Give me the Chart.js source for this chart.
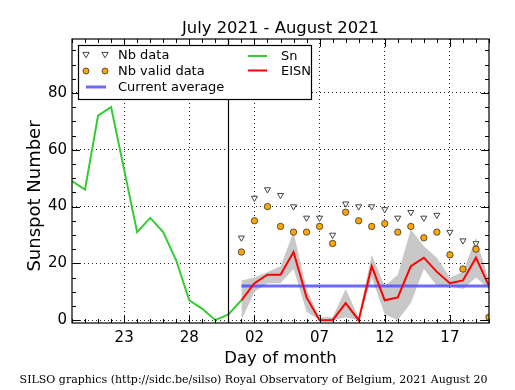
<!DOCTYPE html>
<html>
<head>
<meta charset="utf-8">
<script src="https://cdn.jsdelivr.net/npm/chart.js@4/dist/chart.umd.min.js"></script>
<style>
html,body{margin:0;padding:0;background:#fff;}
canvas{display:block;}
</style>
</head>
<body>
<canvas id="c" width="515" height="390"></canvas>
<script>
// Day offsets counted from July 19, 2021
const snDays = [0,1,2,3,4,5,6,7,8,9,10,11,12,13];
const snValues = [49,46,72,75,53,31,36,31,21,7,4,0,2,7];
const augDays = [13,14,15,16,17,18,19,20,21,22,23,24,25,26,27,28,29,30,31,32];
const eisnValues = [7,13,16,16,24,8,0,0,6,0,19,7,8,19,22,17,13,14,22,12];
const eisnUpper = [14,15,17,19,31,11,1,1,11,1,23,12,16,32,26,22,15,17,29,14];
const eisnLower = [0,10,13,13,18,3,0,0,1,0,15,2,0,6,18,12,12,11,15,11];
const nbData = [29,43,46,44,40,36,36,30,41,40,40,39,36,38,36,37,31,28,27,1];
const nbValid = [24,35,40,33,31,31,33,27,38,35,33,34,31,33,29,31,23,18,25,1];
const currentAverage = 12;
const avgDays = [13,32];
const monthBoundary = 12;
const xTickPos = [4,9,14,19,24,29];
const xTickLabels = ['23','28','02','07','12','17'];
const yTickPos = [0,20,40,60,80];
const yTickLabels = ['0','20','40','60','80'];
const xMin = 0, xMax = 32, yMin = -1, yMax = 99;

const pts = (xs, ys) => xs.map((x,i)=>({x:x, y:ys[i]}));
const FONT = "'DejaVu Sans', sans-serif";

const decor = {
  id:'decor',
  afterDatasetsDraw(chart){
    const {ctx, chartArea:a, scales:{x,y}} = chart;
    ctx.save();
    ctx.strokeStyle='#000'; ctx.lineWidth=1.2;
    const bx = Math.round(x.getPixelForValue(monthBoundary))+0.5;
    ctx.beginPath(); ctx.moveTo(bx,a.top); ctx.lineTo(bx,a.bottom); ctx.stroke();
    ctx.lineWidth=1.2;
    ctx.strokeRect(a.left, a.top, a.right-a.left, a.bottom-a.top);
    ctx.lineWidth=1;
    ctx.beginPath();
    for(let d=xMin; d<=xMax; d++){
      const px = Math.round(x.getPixelForValue(d))+0.5;
      const L = xTickPos.includes(d)?8:4;
      ctx.moveTo(px,a.bottom); ctx.lineTo(px,a.bottom-L);
      ctx.moveTo(px,a.top); ctx.lineTo(px,a.top+L);
    }
    for(let v=0; v<=yMax; v+=5){
      const py = Math.round(y.getPixelForValue(v))+0.5;
      const L = yTickPos.includes(v)?8:4;
      ctx.moveTo(a.left,py); ctx.lineTo(a.left+L,py);
      ctx.moveTo(a.right,py); ctx.lineTo(a.right-L,py);
    }
    ctx.stroke();
    // legend
    const lx=78, ly=45, lw=233, lh=54;
    ctx.fillStyle='#fff';
    ctx.fillRect(lx,ly,lw,lh);
    ctx.strokeStyle='#000'; ctx.lineWidth=1.2;
    ctx.strokeRect(lx+0.5,ly+0.5,lw,lh);
    ctx.font = "13px "+FONT; ctx.fillStyle='#000'; ctx.textBaseline='middle'; ctx.textAlign='left';
    const tri=(cx,cy)=>{ctx.beginPath();ctx.moveTo(cx-3.2,cy-2.6);ctx.lineTo(cx+3.2,cy-2.6);ctx.lineTo(cx,cy+2.8);ctx.closePath();ctx.fillStyle='#fff';ctx.fill();ctx.strokeStyle='#444';ctx.lineWidth=1;ctx.stroke();};
    const circ=(cx,cy)=>{ctx.beginPath();ctx.arc(cx,cy,3,0,Math.PI*2);ctx.fillStyle='#ffa500';ctx.fill();ctx.strokeStyle='#333';ctx.lineWidth=0.8;ctx.stroke();};
    tri(86,55); tri(105,55);
    circ(86,71); circ(105,71);
    ctx.strokeStyle='rgba(80,80,255,0.85)'; ctx.lineWidth=3;
    ctx.beginPath(); ctx.moveTo(86,87); ctx.lineTo(106,87); ctx.stroke();
    ctx.strokeStyle='#33cc33'; ctx.lineWidth=2;
    ctx.beginPath(); ctx.moveTo(248,56); ctx.lineTo(267,56); ctx.stroke();
    ctx.strokeStyle='#ff0000'; ctx.lineWidth=2;
    ctx.beginPath(); ctx.moveTo(248,70.5); ctx.lineTo(267,70.5); ctx.stroke();
    ctx.fillStyle='#000';
    ctx.fillText('Nb data',118,56);
    ctx.fillText('Nb valid data',118,72);
    ctx.fillText('Current average',118,88);
    ctx.fillText('Sn',281,57);
    ctx.fillText('EISN',281,72);
    ctx.restore();
  },
  afterDraw(chart){
    const {ctx, chartArea:a} = chart;
    ctx.save();
    ctx.fillStyle='#000';
    ctx.textAlign='center'; ctx.textBaseline='alphabetic';
    ctx.font = "16.4px "+FONT;
    ctx.fillText('July 2021 - August 2021', (a.left+a.right)/2, 32.5);
    ctx.font = "16.5px "+FONT;
    ctx.fillText('Day of month', (a.left+a.right)/2, 362.5);
    ctx.save();
    ctx.font = "18px "+FONT;
    ctx.translate(39.5, 196);
    ctx.rotate(-Math.PI/2);
    ctx.fillText('Sunspot Number', 0, 0);
    ctx.restore();
    ctx.font = "11px 'DejaVu Serif', serif";
    ctx.fillText('SILSO graphics (http://sidc.be/silso) Royal Observatory of Belgium, 2021 August 20', 253.5, 383);
    ctx.restore();
  }
};

new Chart(document.getElementById('c'), {
  type:'line',
  data:{
    datasets:[
      {label:'Nb valid data', data:pts(augDays,nbValid), showLine:false, pointStyle:'circle', pointRadius:3.2,
       pointBackgroundColor:'#ffa500', pointBorderColor:'#333', pointBorderWidth:0.8, clip:0},
      {label:'Nb data', data:pts(augDays,nbData), showLine:false, pointStyle:'triangle', rotation:180, pointRadius:3.5,
       pointBackgroundColor:'#fff', pointBorderColor:'#444', pointBorderWidth:1, clip:0},
      {label:'EISN', data:pts(augDays,eisnValues), borderColor:'#ff0000', borderWidth:2, pointRadius:0, tension:0, fill:false, clip:0},
      {label:'Current average', data:pts(avgDays,[currentAverage,currentAverage]), borderColor:'rgba(80,80,255,0.85)', borderWidth:3, pointRadius:0, fill:false, clip:0},
      {label:'Sn', data:pts(snDays,snValues), borderColor:'#33cc33', borderWidth:2, pointRadius:0, tension:0, fill:false, clip:0},
      {label:'upper', data:pts(augDays,eisnUpper), borderWidth:0, borderColor:'rgba(0,0,0,0)', pointRadius:0, fill:'+1', backgroundColor:'#c8c8c8', clip:0},
      {label:'lower', data:pts(augDays,eisnLower), borderWidth:0, borderColor:'rgba(0,0,0,0)', pointRadius:0, fill:false, clip:0}
    ]
  },
  options:{
    responsive:false, animation:false, events:[],
    layout:{padding:{top:39,right:26,left:0,bottom:0}},
    plugins:{legend:{display:false}, tooltip:{enabled:false}, title:{display:false}},
    scales:{
      x:{type:'linear', min:xMin, max:xMax,
        afterBuildTicks:(s)=>{s.ticks = xTickPos.map(v=>({value:v}));},
        afterFit:(s)=>{s.height=67;},
        ticks:{autoSkip:false, maxRotation:0, padding:6, color:'#000', font:{family:FONT,size:15},
          callback:(v)=>{const i=xTickPos.indexOf(v); return i>=0?xTickLabels[i]:'';}},
        grid:{color:'rgba(0,0,0,0.85)', lineWidth:1, drawTicks:false},
        border:{display:false, dash:[1,3]}
      },
      y:{type:'linear', min:yMin, max:yMax,
        afterBuildTicks:(s)=>{s.ticks = yTickPos.map(v=>({value:v}));},
        afterFit:(s)=>{s.width=72;},
        ticks:{autoSkip:false, padding:5, color:'#000', font:{family:FONT,size:15},
          callback:(v)=>{const i=yTickPos.indexOf(v); return i>=0?yTickLabels[i]:'';}},
        grid:{color:'rgba(0,0,0,0.85)', lineWidth:1, drawTicks:false},
        border:{display:false, dash:[1,3]}
      }
    }
  },
  plugins:[decor]
});
</script>
</body>
</html>
